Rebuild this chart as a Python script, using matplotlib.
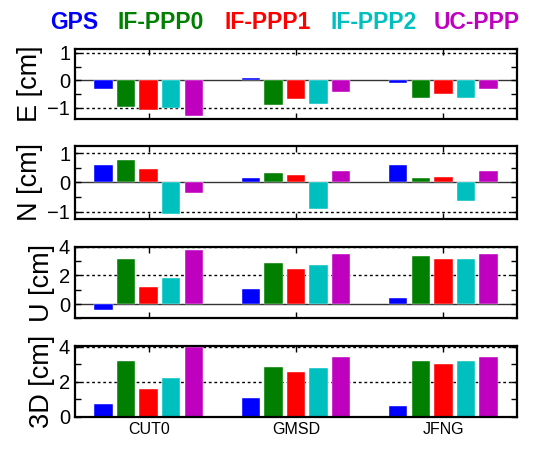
import numpy as np
import matplotlib.pyplot as plt
from matplotlib.ticker import MultipleLocator

plt.rcParams['font.family'] = ['Liberation Sans', 'DejaVu Sans']

stations = ['CUT0', 'GMSD', 'JFNG']
solutions = ['GPS', 'IF-PPP0', 'IF-PPP1', 'IF-PPP2', 'UC-PPP']
colors = ['#0000ff', '#007f00', '#ff0000', '#00bfbf', '#bf00bf']

# per-solution values for CUT0, GMSD, JFNG (cm)
east = {
    'GPS':     [-0.30, 0.08, -0.10],
    'IF-PPP0': [-0.97, -0.91, -0.63],
    'IF-PPP1': [-1.09, -0.69, -0.50],
    'IF-PPP2': [-1.02, -0.84, -0.63],
    'UC-PPP':  [-1.31, -0.44, -0.30],
}
north = {
    'GPS':     [0.59, 0.14, 0.59],
    'IF-PPP0': [0.77, 0.33, 0.14],
    'IF-PPP1': [0.45, 0.27, 0.20],
    'IF-PPP2': [-1.09, -0.91, -0.65],
    'UC-PPP':  [-0.35, 0.40, 0.40],
}
up = {
    'GPS':     [-0.44, 1.05, 0.42],
    'IF-PPP0': [3.12, 2.84, 3.37],
    'IF-PPP1': [1.19, 2.47, 3.12],
    'IF-PPP2': [1.81, 2.72, 3.12],
    'UC-PPP':  [3.77, 3.49, 3.49],
}
three_d = {
    'GPS':     [0.75, 1.06, 0.63],
    'IF-PPP0': [3.19, 2.87, 3.19],
    'IF-PPP1': [1.60, 2.56, 3.00],
    'IF-PPP2': [2.23, 2.77, 3.19],
    'UC-PPP':  [4.00, 3.40, 3.40],
}

panels = [
    ('E [cm]', east, (-1.4, 1.15), 1, 0.5, [-1, 1]),
    ('N [cm]', north, (-1.25, 1.25), 1, 0.5, [-1, 1]),
    ('U [cm]', up, (-1.0, 4.0), 2, 1, [2, 4]),
    ('3D [cm]', three_d, (0.0, 4.05), 2, 1, [2, 4]),
]
# axes boxes in figure fraction: bottom, top
boxes = [(0.7356, 0.892), (0.5133, 0.6756), (0.2926, 0.4518), (0.074, 0.2311)]

fig = plt.figure(figsize=(5.38, 4.5), dpi=100)
x = np.arange(len(stations))
step = 0.153
width = 0.125

for (ylabel, data, ylim, major, minor, grid), (b, t) in zip(panels, boxes):
    ax = fig.add_axes([0.1394, b, 0.961 - 0.1394, t - b])
    for y in grid:
        ax.axhline(y, color='k', lw=1.0, ls=(0, (2, 2)), zorder=1)
    ax.axhline(0, color='#333333', lw=1.0, zorder=1)
    for i, name in enumerate(solutions):
        ax.bar(x + (i - 2) * step, data[name], width=width, color=colors[i],
               edgecolor='white', linewidth=0.3, zorder=2)
    ax.set_xlim(-0.5, 2.5)
    ax.set_ylim(*ylim)
    ax.yaxis.set_major_locator(MultipleLocator(major))
    ax.yaxis.set_minor_locator(MultipleLocator(minor))
    ax.set_xticks(x)
    ax.tick_params(direction='in', top=True, right=True, which='both',
                   labelsize=14.5, length=4, width=1)
    ax.tick_params(axis='x', labelsize=11.5)
    ax.set_ylabel(ylabel, fontsize=19.5, labelpad=3)
    for s in ax.spines.values():
        s.set_linewidth(1.6)
    if ylabel != '3D [cm]':
        ax.set_xticklabels([])
    else:
        ax.set_xticklabels(stations)

fig.align_ylabels(fig.axes)

# coloured legend text above the top panel
legend_x = [0.137, 0.299, 0.497, 0.695, 0.886]
for name, c, lx in zip(solutions, colors, legend_x):
    fig.text(lx, 0.95, name, color=c, fontsize=16.5, fontweight='bold',
             ha='center', va='center')

fig.savefig('out.png', dpi=100)
